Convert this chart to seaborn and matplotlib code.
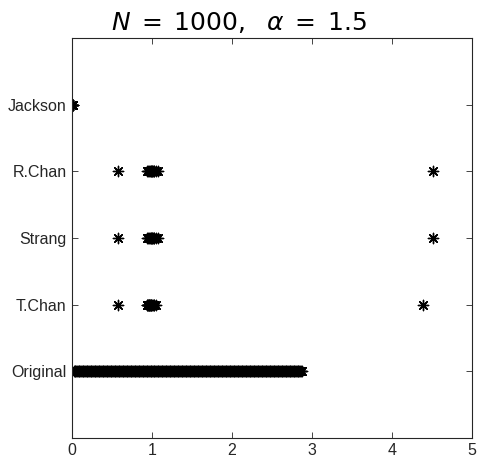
import matplotlib
matplotlib.use("Agg")
import matplotlib.pyplot as plt
import seaborn as sns
import pandas as pd

# Category labels (bottom to top)
methods = ["Original", "T.Chan", "Strang", "R.Chan", "Jackson"]

# Eigenvalues (dense band for the original matrix)
original = [
    0.02, 0.03, 0.04, 0.05, 0.06, 0.07, 0.08, 0.09, 0.10, 0.11,
    0.12, 0.13, 0.14, 0.15, 0.16, 0.17, 0.18, 0.19, 0.20, 0.21,
    0.22, 0.23, 0.24, 0.25, 0.26, 0.27, 0.28, 0.29, 0.30, 0.31,
    0.32, 0.33, 0.34, 0.35, 0.36, 0.37, 0.38, 0.39, 0.40, 0.41,
    0.42, 0.43, 0.44, 0.45, 0.46, 0.47, 0.48, 0.49, 0.50, 0.51,
    0.52, 0.53, 0.54, 0.55, 0.56, 0.57, 0.58, 0.59, 0.60, 0.61,
    0.62, 0.63, 0.64, 0.65, 0.66, 0.67, 0.68, 0.69, 0.70, 0.71,
    0.72, 0.73, 0.74, 0.75, 0.76, 0.77, 0.78, 0.79, 0.80, 0.81,
    0.82, 0.83, 0.84, 0.85, 0.86, 0.87, 0.88, 0.89, 0.90, 0.91,
    0.92, 0.93, 0.94, 0.95, 0.96, 0.97, 0.98, 0.99, 1.00, 1.01,
    1.02, 1.03, 1.04, 1.05, 1.06, 1.07, 1.08, 1.09, 1.10, 1.11,
    1.12, 1.13, 1.14, 1.15, 1.16, 1.17, 1.18, 1.19, 1.20, 1.21,
    1.22, 1.23, 1.24, 1.25, 1.26, 1.27, 1.28, 1.29, 1.30, 1.31,
    1.32, 1.33, 1.34, 1.35, 1.36, 1.37, 1.38, 1.39, 1.40, 1.41,
    1.42, 1.43, 1.44, 1.45, 1.46, 1.47, 1.48, 1.49, 1.50, 1.51,
    1.52, 1.53, 1.54, 1.55, 1.56, 1.57, 1.58, 1.59, 1.60, 1.61,
    1.62, 1.63, 1.64, 1.65, 1.66, 1.67, 1.68, 1.69, 1.70, 1.71,
    1.72, 1.73, 1.74, 1.75, 1.76, 1.77, 1.78, 1.79, 1.80, 1.81,
    1.82, 1.83, 1.84, 1.85, 1.86, 1.87, 1.88, 1.89, 1.90, 1.91,
    1.92, 1.93, 1.94, 1.95, 1.96, 1.97, 1.98, 1.99, 2.00, 2.01,
    2.02, 2.03, 2.04, 2.05, 2.06, 2.07, 2.08, 2.09, 2.10, 2.11,
    2.12, 2.13, 2.14, 2.15, 2.16, 2.17, 2.18, 2.19, 2.20, 2.21,
    2.22, 2.23, 2.24, 2.25, 2.26, 2.27, 2.28, 2.29, 2.30, 2.31,
    2.32, 2.33, 2.34, 2.35, 2.36, 2.37, 2.38, 2.39, 2.40, 2.41,
    2.42, 2.43, 2.44, 2.45, 2.46, 2.47, 2.48, 2.49, 2.50, 2.51,
    2.52, 2.53, 2.54, 2.55, 2.56, 2.57, 2.58, 2.59, 2.60, 2.61,
    2.62, 2.63, 2.64, 2.65, 2.66, 2.67, 2.68, 2.69, 2.70, 2.71,
    2.72, 2.73, 2.74, 2.75, 2.76, 2.77, 2.78, 2.79, 2.80, 2.81,
    2.82, 2.83, 2.84, 2.85, 2.86, 2.87,
]
t_chan = [0.57, 0.93, 0.94, 0.945, 0.95, 0.955, 0.96, 0.965, 0.97, 0.975, 0.98,
          0.985, 0.99, 1.00, 1.01, 1.02, 1.03, 1.05, 4.39]
strang = [0.57, 0.94, 0.95, 0.96, 0.97, 0.98, 0.99, 1.00, 1.005, 1.01, 1.02, 1.03,
          1.05, 1.07, 4.51]
r_chan = [0.57, 0.93, 0.95, 0.96, 0.97, 0.98, 0.99, 1.00, 1.005, 1.01, 1.02, 1.03,
          1.05, 1.07, 4.51]
jackson = [0.0, 0.003, 0.006, 0.009, 0.012]

series = [original, t_chan, strang, r_chan, jackson]
rows = []
for i, (name, vals) in enumerate(zip(methods, series)):
    for v in vals:
        rows.append({"method": name, "pos": i + 1, "value": v})
df = pd.DataFrame(rows)

sns.set_theme(style="white")
plt.rcParams["font.family"] = ["Liberation Sans", "DejaVu Sans"]
plt.rcParams["mathtext.fontset"] = "dejavusans"

fig = plt.figure(figsize=(4.78, 4.59), dpi=100)
ax = fig.add_axes([0.151, 0.046, 0.836, 0.871])

sns.scatterplot(data=df, x="value", y="pos", ax=ax, marker=(8, 2, 0), s=55,
                color="black", edgecolor="black", linewidth=1.0, legend=False)

ax.set_xlim(0, 5)
ax.set_ylim(0, 6)
ax.set_xticks([0, 1, 2, 3, 4, 5])
ax.set_yticks([1, 2, 3, 4, 5])
ax.set_yticklabels(methods)
ax.set_xlabel("")
ax.set_ylabel("")
axcol = "#262626"
for sp in ax.spines.values():
    sp.set_visible(True)
    sp.set_color(axcol)
    sp.set_linewidth(0.8)
ax.tick_params(axis="both", direction="in", length=4, width=0.6, color=axcol,
               labelcolor=axcol, labelsize=11.5, top=True, right=True,
               bottom=True, left=True, pad=4)
fig.text(0.5, 0.935, r"$N\;=\;1000,\ \ \alpha\;=\;1.5$", fontsize=18,
         color="black", ha="center", va="baseline")

fig.savefig("out.png", dpi=100)
